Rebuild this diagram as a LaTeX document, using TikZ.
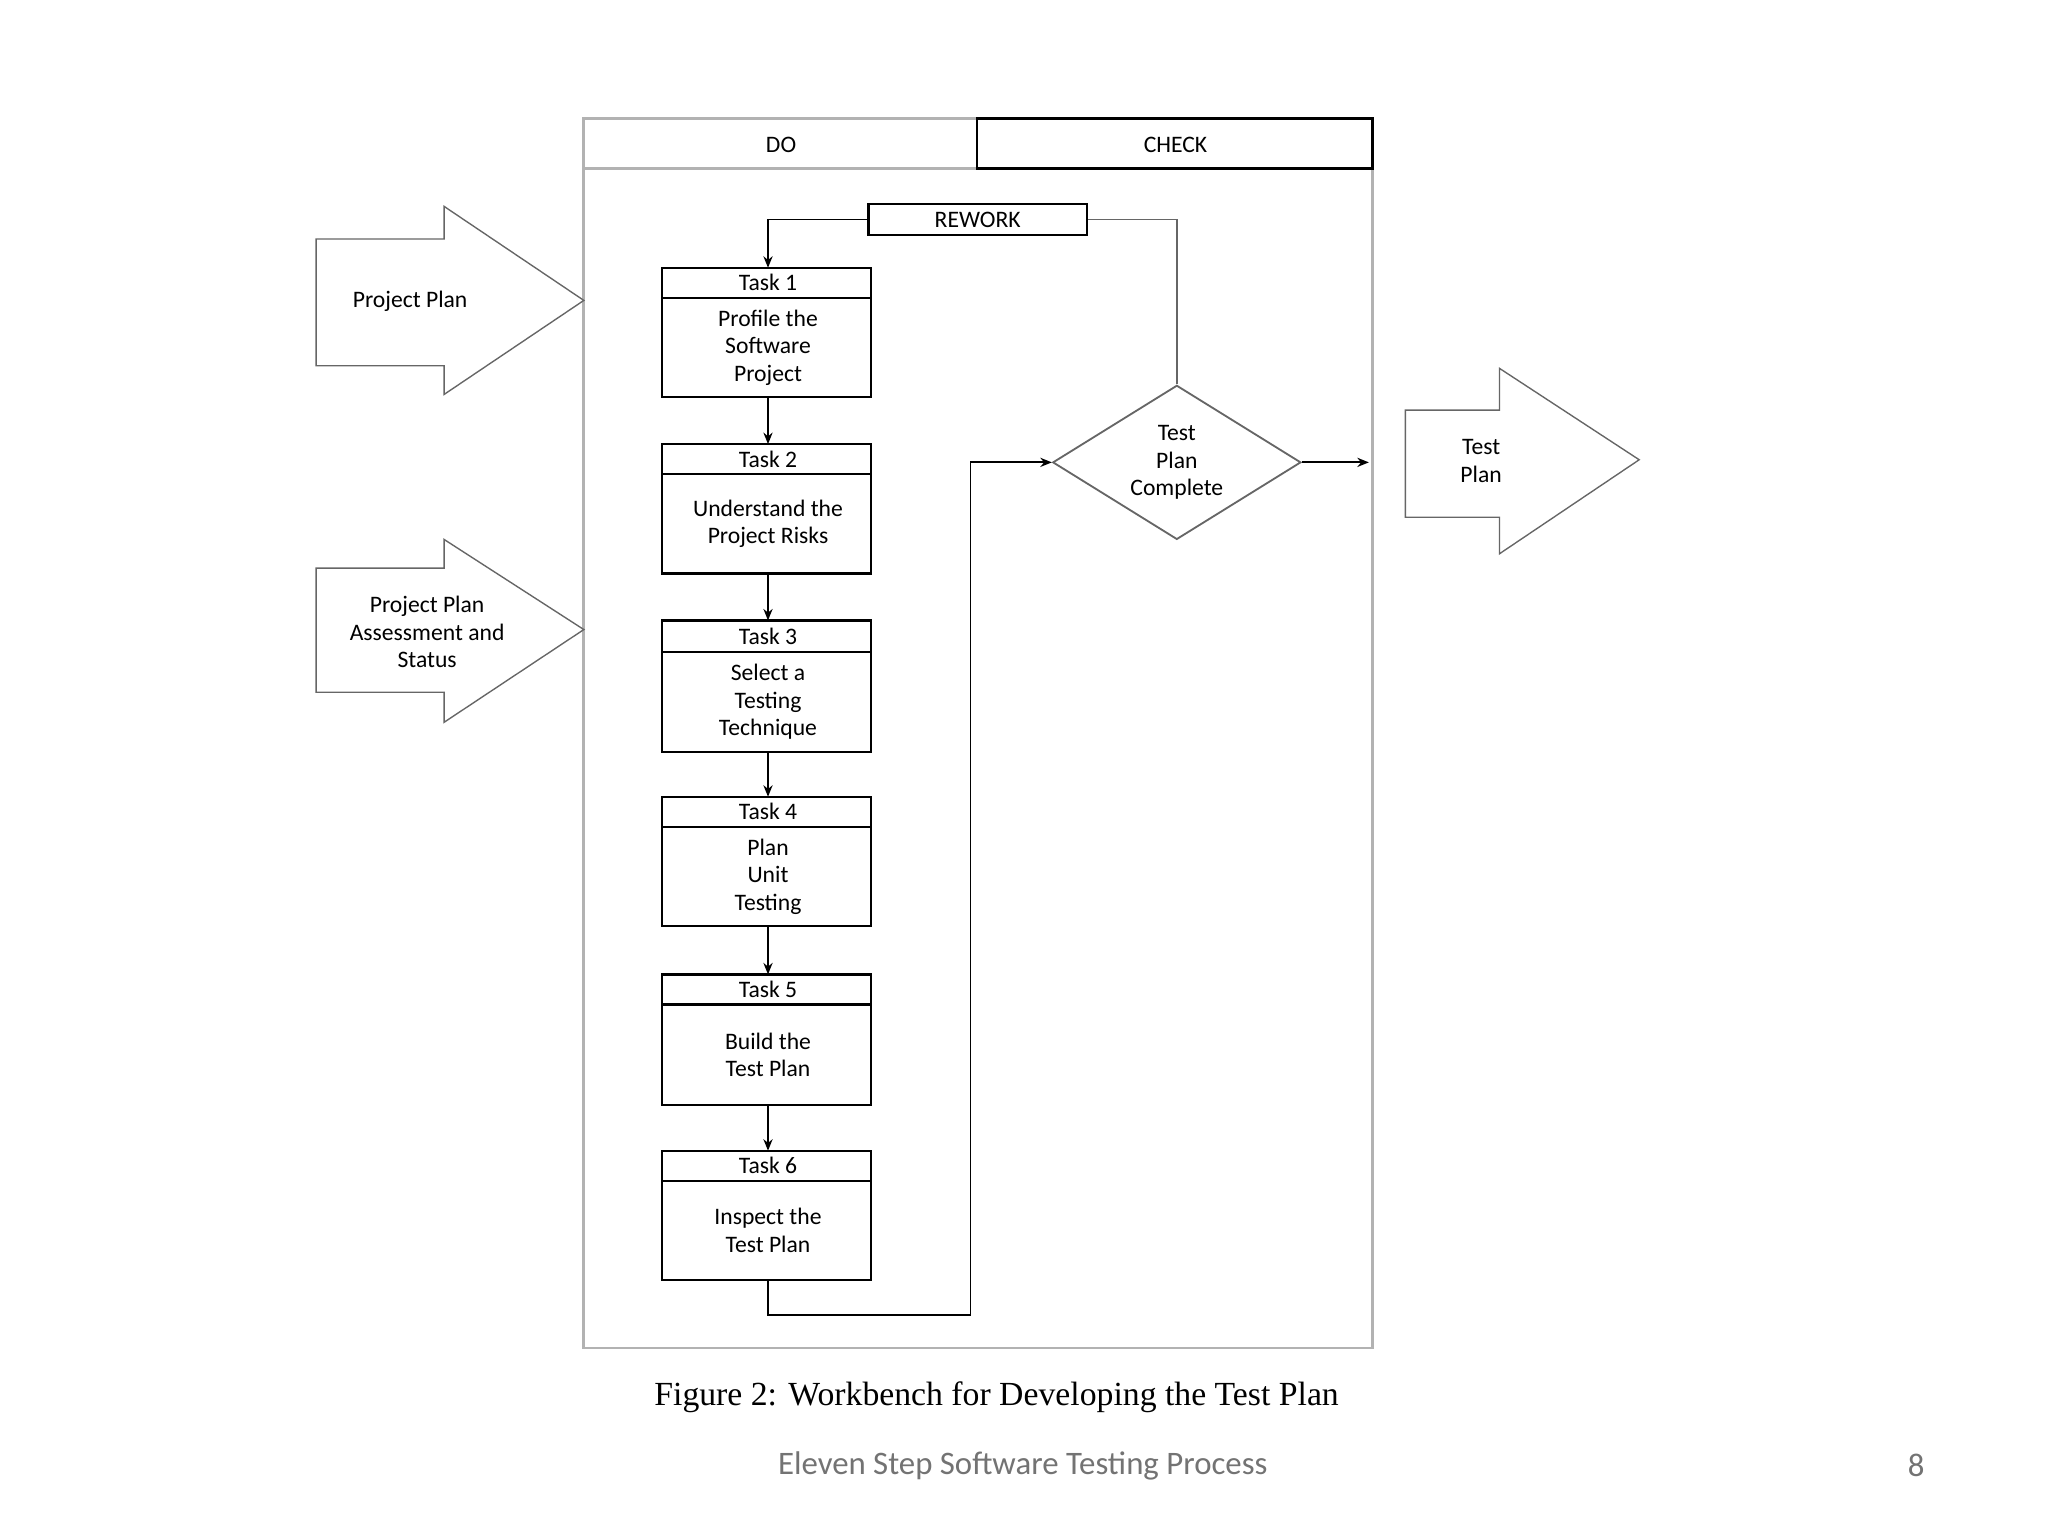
\documentclass[tikz,border=0pt]{standalone}
\usepackage{fontspec}
\setmainfont{Carlito}
\newfontfamily\capfont{Liberation Serif}
\usetikzlibrary{shapes.geometric,arrows.meta}
\begin{document}
\begin{tikzpicture}[x=0.02cm,y=-0.02cm,
  txt/.style={font=\fontsize{10.3}{12}\selectfont,align=center},
  box/.style={draw,line width=1pt},
  arr/.style={-{Stealth[length=5pt,width=4pt]},line width=0.8pt},
  ln/.style={line width=0.8pt},
  big/.style={draw=black!60,line width=0.6pt,fill=white}]
\useasboundingbox (0,0) rectangle (1568,1176);
% frame
\draw[black!30,line width=1.2pt] (447,91) rectangle (1051,1032);
\draw[black!30,line width=1.2pt] (447,129) -- (748,129);
\node[txt] (do) at (598,111) {DO};
\draw[box,line width=1.3pt] (748,91) rectangle (1051,129);
\node[txt] (check) at (900,111) {CHECK};
% rework
\node[box,minimum width=167*0.02cm,minimum height=24*0.02cm,inner sep=0,txt] (rw) at (748.5,168) {REWORK};
% tasks
\foreach \i/\t/\h/\b/\body in {1/205/228/304/{Profile the\\Software\\Project},
  2/340/363/439/{Understand the\\Project Risks},
  3/475/499/576/{Select a\\Testing\\Technique},
  4/610/633/709/{Plan\\Unit\\Testing},
  5/746/769/846/{Build the\\Test Plan},
  6/881/904/980/{Inspect the\\Test Plan}}{
  \draw[box] (507,\t) rectangle (667,\b);
  \draw[line width=1pt] (507,\h) -- (667,\h);
  \coordinate (t\i) at (588,\t);
  \coordinate (b\i) at (588,\b);
  \node[txt] (h\i) at (588,{(\t+\h)/2}) {Task \i};
  \node[txt] (x\i) at (588,{(\h+\b)/2}) {\body};
}
\foreach \a/\b in {1/2,2/3,3/4,4/5,5/6}{\draw[arr] (b\a) -- (t\b);}
% diamond
\node[draw=black!60,line width=0.8pt,diamond,aspect=1.6,minimum width=190*0.02cm,minimum height=118*0.02cm,inner sep=0,txt] (d) at (901,354) {Test\\Plan\\Complete};
\draw[ln,black!60] (d.north) -- (901,168) -- (rw.east);
\draw[arr] (rw.west) -- (588,168) -- (t1);
\draw[arr] (b6) -- (588,1007) -- (743,1007) -- (743,354) -- (d.west);
\coordinate (out) at (1048,354);
\draw[arr] (d.east) -- (out);
% big arrows
\draw[big] (242,183) -- (340,183) -- (340,158) -- (447,230) -- (340,302) -- (340,280) -- (242,280) -- cycle;
\node[txt] (pp) at (314,231) {Project Plan};
\draw[big] (242,435) -- (340,435) -- (340,413) -- (447,482) -- (340,553) -- (340,530) -- (242,530) -- cycle;
\node[txt] (pa) at (327,484) {Project Plan\\Assessment and\\Status};
\draw[big] (1076,314) -- (1148,314) -- (1148,282) -- (1255,352) -- (1148,424) -- (1148,396) -- (1076,396) -- cycle;
\node[txt] (tp) at (1134,353) {Test\\Plan};
% caption
\node[font=\capfont\fontsize{14.7}{16}\selectfont] (cap) at (763,1070) {Figure 2: Workbench for Developing the Test Plan};
\node[font=\fontsize{14.3}{16}\selectfont,text=black!55] (ft) at (783,1122) {Eleven Step Software Testing Process};
\node[font=\fontsize{14.3}{16}\selectfont,text=black!55] (pg) at (1467,1122) {8};
\end{tikzpicture}
\end{document}
